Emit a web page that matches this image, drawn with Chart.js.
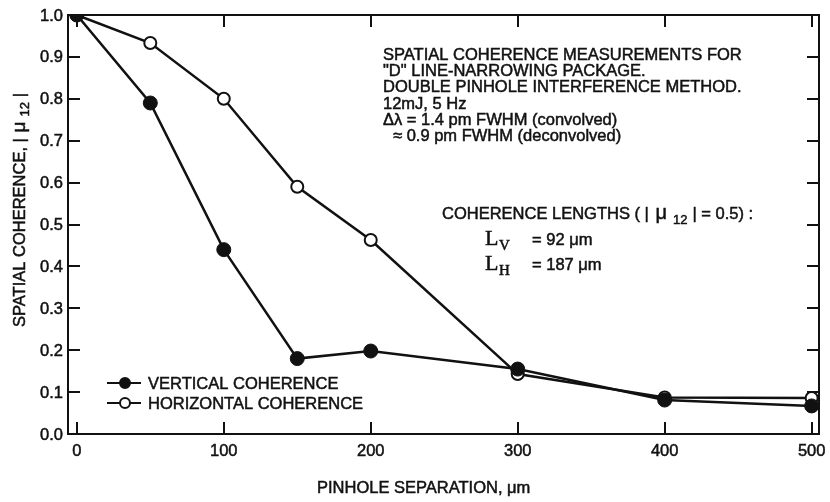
<!DOCTYPE html>
<html lang="en">
<head>
  <meta charset="UTF-8">
  <title>Spatial coherence</title>
  <script src="https://cdn.jsdelivr.net/npm/chart.js"></script>
  <style>
    html, body { margin: 0; padding: 0; background: #fff; }
    #wrap { width: 830px; height: 502px; }
  </style>
</head>
<body>
  <div id="wrap"><canvas id="grafico" width="830" height="502"></canvas></div>

  <script>
    // dados
    const separacao = [0, 50, 100, 150, 200, 300, 400, 500];
    const vertical = [1.0, 0.79, 0.44, 0.18, 0.198, 0.155, 0.081, 0.067];
    const horizontal = [1.0, 0.933, 0.80, 0.59, 0.463, 0.143, 0.087, 0.086];
    const xTicks = [0, 100, 200, 300, 400, 500];
    const yTicks = [0.0, 0.1, 0.2, 0.3, 0.4, 0.5, 0.6, 0.7, 0.8, 0.9, 1.0];

    const FONTE = '"Liberation Sans", Arial, sans-serif';
    const SERIFA = '"Liberation Serif", "Times New Roman", serif';
    const TINTA = '#111';
    const TAM = 16.5;

    function pontos(ys) {
      return separacao.map((x, i) => ({ x: x, y: ys[i] }));
    }

    // texto com um leve contorno, para parecer com a impressao original
    function escreve(c, txt, x, y) {
      c.strokeText(txt, x, y);
      c.fillText(txt, x, y);
    }

    // moldura, marcas internas, textos e legenda
    const extras = {
      id: 'extras',
      afterDraw(chart) {
        const c = chart.ctx;
        const a = chart.chartArea;
        const sx = chart.scales.x, sy = chart.scales.y;
        const t = 12;
        c.save();
        c.strokeStyle = TINTA;
        c.lineWidth = 2;
        c.strokeRect(a.left, a.top, a.right - a.left, a.bottom - a.top);
        c.beginPath();
        xTicks.forEach(v => {
          const px = Math.round(sx.getPixelForValue(v));
          c.moveTo(px, a.bottom); c.lineTo(px, a.bottom - t);
          c.moveTo(px, a.top); c.lineTo(px, a.top + t);
        });
        yTicks.slice(1, -1).forEach(v => {
          const py = Math.round(sy.getPixelForValue(v));
          c.moveTo(a.left, py); c.lineTo(a.left + t, py);
          c.moveTo(a.right, py); c.lineTo(a.right - t, py);
        });
        c.stroke();

        c.fillStyle = TINTA;
        c.lineWidth = 0.5;
        c.font = TAM + 'px ' + FONTE;

        // rotulos dos eixos
        c.textBaseline = 'middle';
        c.textAlign = 'right';
        yTicks.forEach(v => escreve(c, v.toFixed(1), a.left - 5, sy.getPixelForValue(v) + 1));
        c.textAlign = 'center';
        xTicks.forEach(v => escreve(c, String(v), sx.getPixelForValue(v), a.bottom + 17));

        c.textBaseline = 'alphabetic';
        c.textAlign = 'left';

        // bloco de anotacao
        const linhas = [
          ['SPATIAL COHERENCE MEASUREMENTS FOR', 383, 60],
          ['"D" LINE-NARROWING PACKAGE.', 383, 76],
          ['DOUBLE PINHOLE INTERFERENCE METHOD.', 383, 92],
          ['12mJ, 5 Hz', 383, 109],
          ['\u0394\u03bb = 1.4 pm FWHM (convolved)', 383, 125],
          ['\u2248 0.9 pm FWHM (deconvolved)', 393, 141]
        ];
        linhas.forEach(l => escreve(c, l[0], l[1], l[2]));

        // COHERENCE LENGTHS ( | mu 12 | = 0.5) :
        let x = 442;
        const yb = 219;
        const seq = [
          ['COHERENCE LENGTHS ( | ', TAM + 'px ' + FONTE, 0, 2],
          ['\u03bc', '20px ' + FONTE, 0, 6],
          ['12', '13px ' + FONTE, 5, 5],
          ['| = 0.5) :', TAM + 'px ' + FONTE, 0, 0]
        ];
        seq.forEach(p => {
          c.font = p[1];
          escreve(c, p[0], x, yb + p[2]);
          x += c.measureText(p[0]).width + p[3];
        });

        // L_V e L_H
        [['V', '= 92 \u03bcm', 245], ['H', '= 187 \u03bcm', 270]].forEach(r => {
          c.font = '22px ' + SERIFA;
          escreve(c, 'L', 485, r[2]);
          c.font = '15px ' + SERIFA;
          escreve(c, r[0], 499, r[2] + 5);
          c.font = TAM + 'px ' + FONTE;
          escreve(c, r[1], 532, r[2]);
        });

        // legenda
        const itens = [['VERTICAL COHERENCE', true, 383], ['HORIZONTAL COHERENCE', false, 403]];
        itens.forEach(it => {
          const ly = it[2];
          c.lineWidth = 2;
          c.beginPath();
          c.moveTo(107, ly); c.lineTo(141, ly);
          c.stroke();
          c.beginPath();
          c.arc(125, ly, 5, 0, Math.PI * 2);
          c.fillStyle = it[1] ? TINTA : '#fff';
          c.fill();
          c.stroke();
          c.fillStyle = TINTA;
          c.lineWidth = 0.5;
          c.font = TAM + 'px ' + FONTE;
          c.textBaseline = 'middle';
          escreve(c, it[0], 148, ly + 1);
        });

        // titulo do eixo y (com subscrito)
        c.save();
        c.translate(25, 327);
        c.rotate(-Math.PI / 2);
        c.textBaseline = 'alphabetic';
        const partes = [
          ['SPATIAL COHERENCE, | ', TAM + 'px ' + FONTE, 0, 1],
          ['\u03bc', '19px ' + FONTE, 0, 5],
          ['12', '13px ' + FONTE, 4, 5],
          ['|', TAM + 'px ' + FONTE, 0, 0]
        ];
        let px = 0;
        partes.forEach(p => {
          c.font = p[1];
          escreve(c, p[0], px, p[2]);
          px += c.measureText(p[0]).width + p[3];
        });
        c.restore();

        // titulo do eixo x
        c.font = TAM + 'px ' + FONTE;
        c.textAlign = 'left';
        c.textBaseline = 'alphabetic';
        escreve(c, 'PINHOLE SEPARATION, \u03bcm', 317, 493);
        c.restore();
      }
    };

    const ctx = document.getElementById('grafico').getContext('2d');
    new Chart(ctx, {
      type: 'scatter',
      data: {
        datasets: [
          {
            label: 'VERTICAL COHERENCE',
            data: pontos(vertical),
            showLine: true,
            borderColor: TINTA,
            borderWidth: 2.5,
            backgroundColor: TINTA,
            pointRadius: 7,
            pointBorderWidth: 1,
            pointBorderColor: TINTA,
            pointBackgroundColor: TINTA
          },
          {
            label: 'HORIZONTAL COHERENCE',
            data: pontos(horizontal),
            showLine: true,
            borderColor: TINTA,
            borderWidth: 2.5,
            pointRadius: 6,
            pointBorderWidth: 2,
            pointBorderColor: TINTA,
            pointBackgroundColor: '#fff'
          }
        ]
      },
      options: {
        responsive: false,
        animation: false,
        layout: { padding: { left: 68, right: 11, top: 15, bottom: 68 } },
        plugins: {
          legend: { display: false },
          tooltip: { enabled: false }
        },
        scales: {
          x: {
            type: 'linear',
            min: -6,
            max: 505,
            afterBuildTicks: s => { s.ticks = xTicks.map(v => ({ value: v })); },
            grid: { display: false, drawTicks: false },
            border: { display: false },
            ticks: { display: false }
          },
          y: {
            min: 0,
            max: 1,
            afterBuildTicks: s => { s.ticks = yTicks.map(v => ({ value: v })); },
            grid: { display: false, drawTicks: false },
            border: { display: false },
            ticks: { display: false }
          }
        }
      },
      plugins: [extras]
    });
  </script>
</body>
</html>
